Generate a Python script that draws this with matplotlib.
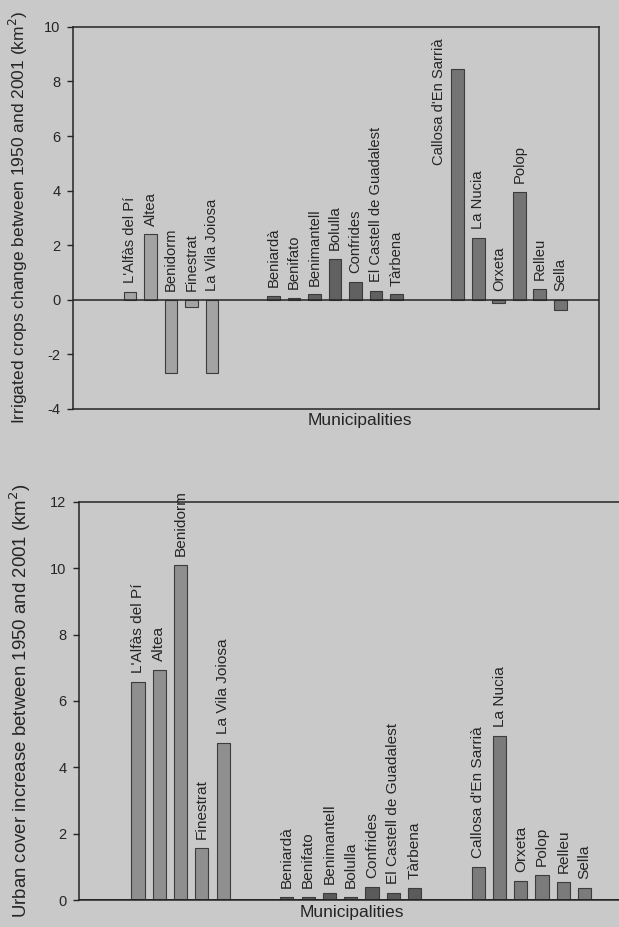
import matplotlib
matplotlib.use("Agg")
import matplotlib.pyplot as plt
import numpy as np

plt.rcParams['font.family'] = ['Liberation Sans', 'DejaVu Sans']
plt.rcParams['axes.unicode_minus'] = False

# Municipalities, grouped by area (coast, Guadalest valley, interior)
coast = ["L'Alfàs del Pí", "Altea", "Benidorm", "Finestrat", "La Vila Joiosa"]
valley = ["Beniardà", "Benifato", "Benimantell", "Bolulla", "Confrides",
          "El Castell de Guadalest", "Tàrbena"]
interior = ["Callosa d'En Sarrià", "La Nucia", "Orxeta", "Polop", "Relleu", "Sella"]

# Irrigated crops change 1950-2001 (km2)
irrig_coast = [0.30, 2.40, -2.67, -0.25, -2.70]
irrig_valley = [0.15, 0.08, 0.20, 1.50, 0.66, 0.33, 0.20]
irrig_interior = [8.46, 2.27, -0.12, 3.96, 0.40, -0.38]

# Urban cover increase 1950-2001 (km2)
urban_coast = [6.58, 6.92, 10.10, 1.58, 4.72]
urban_valley = [0.10, 0.08, 0.20, 0.08, 0.40, 0.22, 0.35]
urban_interior = [1.00, 4.95, 0.58, 0.75, 0.55, 0.35]

BG = '#c9c9c9'
INK = '#252525'
GAP = 2  # empty slots between groups


def slot_positions(groups, gap):
    pos, start = [], 0
    for g in groups:
        pos.append(np.arange(start, start + len(g)))
        start += len(g) + gap
    return pos


def draw(ax, groups, values, colors, ylim, yticks, ylabel, label_off,
         label_size, ylabel_size, ylabel_x, xlabel_x, beside=()):
    ax.set_facecolor(BG)
    positions = slot_positions(groups, GAP)
    for names, vals, pos, col in zip(groups, values, positions, colors):
        ax.bar(pos, vals, width=0.62, color=col, edgecolor='#3c3c3c',
               linewidth=0.8, zorder=2)
        for name, v, x in zip(names, vals, pos):
            if name in beside:
                # tall bar: label sits alongside, to its left
                ax.annotate(name, (x, v), xytext=(-13.3, 22.3),
                            textcoords='offset points', rotation=90,
                            ha='center', va='top', fontsize=label_size,
                            color=INK)
                continue
            ax.annotate(name, (x, max(v, 0)), xytext=(0, label_off),
                        textcoords='offset points', rotation=90,
                        ha='center', va='bottom', fontsize=label_size,
                        color=INK)
    ax.axhline(0, color=INK, linewidth=1.1, zorder=3)
    ax.set_xlim(-2.78, 22.9)
    ax.set_ylim(*ylim)
    ax.set_yticks(yticks)
    ax.set_xticks([])
    ax.tick_params(axis='y', direction='out', length=4, width=1.0,
                   colors=INK, labelsize=10.5, pad=5)
    for s in ax.spines.values():
        s.set_color(INK)
        s.set_linewidth(1.1)
    ax.set_ylabel(ylabel, fontsize=ylabel_size, color=INK)
    ax.yaxis.set_label_coords(ylabel_x, 0.5)
    ax.set_xlabel('Municipalities', fontsize=12.5, color=INK)
    ax.xaxis.set_label_coords(xlabel_x, -0.012)
    ax.xaxis.label.set_va('top')


fig = plt.figure(figsize=(6.19, 9.27), dpi=100, facecolor=BG)

ax1 = fig.add_axes([0.118, 0.559, 0.850, 0.412])
draw(ax1, [coast, valley, interior],
     [irrig_coast, irrig_valley, irrig_interior],
     ['#a3a3a3', '#616161', '#747474'],
     (-4, 10), np.arange(-4, 11, 2),
     'Irrigated crops change between 1950 and 2001 (km$^2$)',
     6.0, 10.6, 12.5, -0.082, 0.545, beside=("Callosa d'En Sarrià",))

ax2 = fig.add_axes([0.1276, 0.0291, 0.882, 0.4294])
draw(ax2, [coast, valley, interior],
     [urban_coast, urban_valley, urban_interior],
     ['#8f8f8f', '#5b5b5b', '#7b7b7b'],
     (0, 12), np.arange(0, 13, 2),
     'Urban cover increase between 1950 and 2001 (km$^2$)',
     6.5, 11.1, 13.4, -0.084, 0.5)
ax2.axhline(0, color=INK, linewidth=1.3, zorder=3)

fig.savefig('out.png', dpi=100, facecolor=BG)
